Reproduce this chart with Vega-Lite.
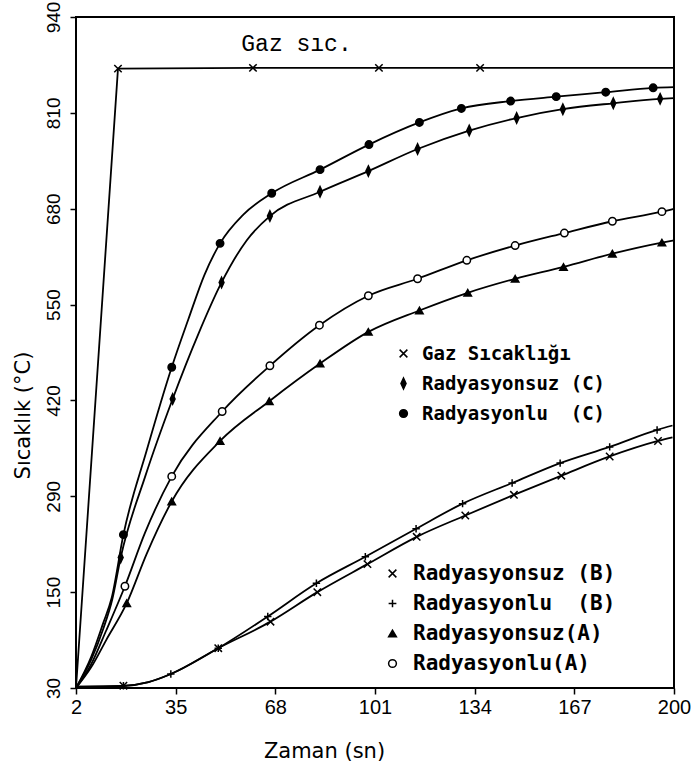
{
  "$schema": "https://vega.github.io/schema/vega-lite/v6.json",
  "width": 598,
  "height": 671,
  "autosize": {"type": "none"},
  "padding": {"left": 76, "top": 17, "right": 26, "bottom": 80},
  "background": "white",
  "config": {
    "view": {"stroke": "black", "strokeWidth": 2},
    "axis": {
      "grid": false,
      "domain": false,
      "tickColor": "black",
      "tickWidth": 1.5,
      "tickSize": 6,
      "labelColor": "black",
      "labelFont": "Liberation Sans",
      "labelFontSize": 19,
      "titleColor": "black",
      "titleFont": "DejaVu Sans",
      "titleFontSize": 21,
      "titleFontWeight": "normal"
    }
  },
  "datasets": {
    "curves": [
      {"series": "Gaz Sıcaklığı", "g": 1, "t": 2, "temp": 30, "m": 0},
      {"series": "Gaz Sıcaklığı", "g": 1, "t": 15.9, "temp": 870, "m": 1},
      {"series": "Gaz Sıcaklığı", "g": 1, "t": 60.6, "temp": 871, "m": 1},
      {"series": "Gaz Sıcaklığı", "g": 1, "t": 102.3, "temp": 871, "m": 1},
      {"series": "Gaz Sıcaklığı", "g": 1, "t": 135.8, "temp": 871, "m": 1},
      {"series": "Gaz Sıcaklığı", "g": 1, "t": 200, "temp": 871, "m": 0},

      {"series": "Radyasyonlu\u00a0\u00a0(C)", "g": 1, "t": 2, "temp": 30, "m": 0},
      {"series": "Radyasyonlu\u00a0\u00a0(C)", "g": 1, "t": 7, "temp": 72, "m": 0},
      {"series": "Radyasyonlu\u00a0\u00a0(C)", "g": 1, "t": 11, "temp": 118, "m": 0},
      {"series": "Radyasyonlu\u00a0\u00a0(C)", "g": 1, "t": 13.8, "temp": 152, "m": 0},
      {"series": "Radyasyonlu\u00a0\u00a0(C)", "g": 1, "t": 17.7, "temp": 238, "m": 1},
      {"series": "Radyasyonlu\u00a0\u00a0(C)", "g": 1, "t": 25.4, "temp": 352, "m": 0},
      {"series": "Radyasyonlu\u00a0\u00a0(C)", "g": 1, "t": 33.7, "temp": 465, "m": 1},
      {"series": "Radyasyonlu\u00a0\u00a0(C)", "g": 1, "t": 39.2, "temp": 530, "m": 0},
      {"series": "Radyasyonlu\u00a0\u00a0(C)", "g": 1, "t": 44.5, "temp": 590, "m": 0},
      {"series": "Radyasyonlu\u00a0\u00a0(C)", "g": 1, "t": 49.7, "temp": 633, "m": 1},
      {"series": "Radyasyonlu\u00a0\u00a0(C)", "g": 1, "t": 57.4, "temp": 672, "m": 0},
      {"series": "Radyasyonlu\u00a0\u00a0(C)", "g": 1, "t": 66.8, "temp": 701, "m": 1},
      {"series": "Radyasyonlu\u00a0\u00a0(C)", "g": 1, "t": 82.8, "temp": 733, "m": 1},
      {"series": "Radyasyonlu\u00a0\u00a0(C)", "g": 1, "t": 99, "temp": 767, "m": 1},
      {"series": "Radyasyonlu\u00a0\u00a0(C)", "g": 1, "t": 115.7, "temp": 797, "m": 1},
      {"series": "Radyasyonlu\u00a0\u00a0(C)", "g": 1, "t": 129.6, "temp": 816, "m": 1},
      {"series": "Radyasyonlu\u00a0\u00a0(C)", "g": 1, "t": 145.9, "temp": 826, "m": 1},
      {"series": "Radyasyonlu\u00a0\u00a0(C)", "g": 1, "t": 161, "temp": 832, "m": 1},
      {"series": "Radyasyonlu\u00a0\u00a0(C)", "g": 1, "t": 177.4, "temp": 838, "m": 1},
      {"series": "Radyasyonlu\u00a0\u00a0(C)", "g": 1, "t": 193.1, "temp": 844, "m": 1},
      {"series": "Radyasyonlu\u00a0\u00a0(C)", "g": 1, "t": 200, "temp": 845, "m": 0},

      {"series": "Radyasyonsuz (C)", "g": 1, "t": 2, "temp": 30, "m": 0},
      {"series": "Radyasyonsuz (C)", "g": 1, "t": 7, "temp": 68, "m": 0},
      {"series": "Radyasyonsuz (C)", "g": 1, "t": 11, "temp": 110, "m": 0},
      {"series": "Radyasyonsuz (C)", "g": 1, "t": 14, "temp": 150, "m": 0},
      {"series": "Radyasyonsuz (C)", "g": 1, "t": 16.8, "temp": 207, "m": 1},
      {"series": "Radyasyonsuz (C)", "g": 1, "t": 25, "temp": 318, "m": 0},
      {"series": "Radyasyonsuz (C)", "g": 1, "t": 34, "temp": 422, "m": 1},
      {"series": "Radyasyonsuz (C)", "g": 1, "t": 42.5, "temp": 510, "m": 0},
      {"series": "Radyasyonsuz (C)", "g": 1, "t": 50.2, "temp": 580, "m": 1},
      {"series": "Radyasyonsuz (C)", "g": 1, "t": 58.5, "temp": 637, "m": 0},
      {"series": "Radyasyonsuz (C)", "g": 1, "t": 66.2, "temp": 670, "m": 1},
      {"series": "Radyasyonsuz (C)", "g": 1, "t": 82.8, "temp": 703, "m": 1},
      {"series": "Radyasyonsuz (C)", "g": 1, "t": 98.8, "temp": 731, "m": 1},
      {"series": "Radyasyonsuz (C)", "g": 1, "t": 115.1, "temp": 761, "m": 1},
      {"series": "Radyasyonsuz (C)", "g": 1, "t": 132.2, "temp": 786, "m": 1},
      {"series": "Radyasyonsuz (C)", "g": 1, "t": 147.9, "temp": 803, "m": 1},
      {"series": "Radyasyonsuz (C)", "g": 1, "t": 163.2, "temp": 815, "m": 1},
      {"series": "Radyasyonsuz (C)", "g": 1, "t": 179.9, "temp": 823, "m": 1},
      {"series": "Radyasyonsuz (C)", "g": 1, "t": 195.4, "temp": 829, "m": 1},
      {"series": "Radyasyonsuz (C)", "g": 1, "t": 200, "temp": 830, "m": 0},

      {"series": "Radyasyonlu(A)", "g": 2, "t": 2, "temp": 30, "m": 0},
      {"series": "Radyasyonlu(A)", "g": 2, "t": 7, "temp": 62, "m": 0},
      {"series": "Radyasyonlu(A)", "g": 2, "t": 12, "temp": 108, "m": 0},
      {"series": "Radyasyonlu(A)", "g": 2, "t": 18.2, "temp": 168, "m": 1},
      {"series": "Radyasyonlu(A)", "g": 2, "t": 24.8, "temp": 240, "m": 0},
      {"series": "Radyasyonlu(A)", "g": 2, "t": 33.7, "temp": 317, "m": 1},
      {"series": "Radyasyonlu(A)", "g": 2, "t": 50.4, "temp": 405, "m": 1},
      {"series": "Radyasyonlu(A)", "g": 2, "t": 66.2, "temp": 467, "m": 1},
      {"series": "Radyasyonlu(A)", "g": 2, "t": 82.6, "temp": 522, "m": 1},
      {"series": "Radyasyonlu(A)", "g": 2, "t": 98.8, "temp": 562, "m": 1},
      {"series": "Radyasyonlu(A)", "g": 2, "t": 115.1, "temp": 585, "m": 1},
      {"series": "Radyasyonlu(A)", "g": 2, "t": 131.4, "temp": 610, "m": 1},
      {"series": "Radyasyonlu(A)", "g": 2, "t": 147.4, "temp": 630, "m": 1},
      {"series": "Radyasyonlu(A)", "g": 2, "t": 163.7, "temp": 647, "m": 1},
      {"series": "Radyasyonlu(A)", "g": 2, "t": 179.6, "temp": 663, "m": 1},
      {"series": "Radyasyonlu(A)", "g": 2, "t": 196, "temp": 676, "m": 1},
      {"series": "Radyasyonlu(A)", "g": 2, "t": 200, "temp": 680, "m": 0},

      {"series": "Radyasyonsuz(A)", "g": 2, "t": 2, "temp": 30, "m": 0},
      {"series": "Radyasyonsuz(A)", "g": 2, "t": 7, "temp": 58, "m": 0},
      {"series": "Radyasyonsuz(A)", "g": 2, "t": 12, "temp": 95, "m": 0},
      {"series": "Radyasyonsuz(A)", "g": 2, "t": 18.8, "temp": 145, "m": 1},
      {"series": "Radyasyonsuz(A)", "g": 2, "t": 25.4, "temp": 212, "m": 0},
      {"series": "Radyasyonsuz(A)", "g": 2, "t": 33.7, "temp": 283, "m": 1},
      {"series": "Radyasyonsuz(A)", "g": 2, "t": 49.7, "temp": 365, "m": 1},
      {"series": "Radyasyonsuz(A)", "g": 2, "t": 66, "temp": 419, "m": 1},
      {"series": "Radyasyonsuz(A)", "g": 2, "t": 82.8, "temp": 470, "m": 1},
      {"series": "Radyasyonsuz(A)", "g": 2, "t": 98.8, "temp": 513, "m": 1},
      {"series": "Radyasyonsuz(A)", "g": 2, "t": 115.7, "temp": 542, "m": 1},
      {"series": "Radyasyonsuz(A)", "g": 2, "t": 131.7, "temp": 566, "m": 1},
      {"series": "Radyasyonsuz(A)", "g": 2, "t": 147.4, "temp": 585, "m": 1},
      {"series": "Radyasyonsuz(A)", "g": 2, "t": 163.4, "temp": 601, "m": 1},
      {"series": "Radyasyonsuz(A)", "g": 2, "t": 179.6, "temp": 619, "m": 1},
      {"series": "Radyasyonsuz(A)", "g": 2, "t": 196, "temp": 634, "m": 1},
      {"series": "Radyasyonsuz(A)", "g": 2, "t": 200, "temp": 637, "m": 0},

      {"series": "Radyasyonlu\u00a0\u00a0(B)", "g": 2, "t": 2, "temp": 32, "m": 0},
      {"series": "Radyasyonlu\u00a0\u00a0(B)", "g": 2, "t": 17.7, "temp": 33, "m": 1},
      {"series": "Radyasyonlu\u00a0\u00a0(B)", "g": 2, "t": 26, "temp": 38, "m": 0},
      {"series": "Radyasyonlu\u00a0\u00a0(B)", "g": 2, "t": 33.4, "temp": 49, "m": 1},
      {"series": "Radyasyonlu\u00a0\u00a0(B)", "g": 2, "t": 49.1, "temp": 84, "m": 1},
      {"series": "Radyasyonlu\u00a0\u00a0(B)", "g": 2, "t": 65.5, "temp": 127, "m": 1},
      {"series": "Radyasyonlu\u00a0\u00a0(B)", "g": 2, "t": 81.6, "temp": 172, "m": 1},
      {"series": "Radyasyonlu\u00a0\u00a0(B)", "g": 2, "t": 97.8, "temp": 208, "m": 1},
      {"series": "Radyasyonlu\u00a0\u00a0(B)", "g": 2, "t": 114.6, "temp": 246, "m": 1},
      {"series": "Radyasyonlu\u00a0\u00a0(B)", "g": 2, "t": 130, "temp": 280, "m": 1},
      {"series": "Radyasyonlu\u00a0\u00a0(B)", "g": 2, "t": 146.4, "temp": 308, "m": 1},
      {"series": "Radyasyonlu\u00a0\u00a0(B)", "g": 2, "t": 162.3, "temp": 335, "m": 1},
      {"series": "Radyasyonlu\u00a0\u00a0(B)", "g": 2, "t": 178.7, "temp": 357, "m": 1},
      {"series": "Radyasyonlu\u00a0\u00a0(B)", "g": 2, "t": 194.4, "temp": 380, "m": 1},
      {"series": "Radyasyonlu\u00a0\u00a0(B)", "g": 2, "t": 199.5, "temp": 386, "m": 0},

      {"series": "Radyasyonsuz (B)", "g": 2, "t": 2, "temp": 32, "m": 0},
      {"series": "Radyasyonsuz (B)", "g": 2, "t": 17.7, "temp": 33, "m": 1},
      {"series": "Radyasyonsuz (B)", "g": 2, "t": 26, "temp": 38, "m": 0},
      {"series": "Radyasyonsuz (B)", "g": 2, "t": 33.4, "temp": 49, "m": 0},
      {"series": "Radyasyonsuz (B)", "g": 2, "t": 49.1, "temp": 84, "m": 1},
      {"series": "Radyasyonsuz (B)", "g": 2, "t": 66.4, "temp": 120, "m": 1},
      {"series": "Radyasyonsuz (B)", "g": 2, "t": 81.9, "temp": 160, "m": 1},
      {"series": "Radyasyonsuz (B)", "g": 2, "t": 98.5, "temp": 198, "m": 1},
      {"series": "Radyasyonsuz (B)", "g": 2, "t": 114.8, "temp": 235, "m": 1},
      {"series": "Radyasyonsuz (B)", "g": 2, "t": 130.9, "temp": 264, "m": 1},
      {"series": "Radyasyonsuz (B)", "g": 2, "t": 147, "temp": 292, "m": 1},
      {"series": "Radyasyonsuz (B)", "g": 2, "t": 162.7, "temp": 318, "m": 1},
      {"series": "Radyasyonsuz (B)", "g": 2, "t": 178.7, "temp": 344, "m": 1},
      {"series": "Radyasyonsuz (B)", "g": 2, "t": 194.7, "temp": 365, "m": 1},
      {"series": "Radyasyonsuz (B)", "g": 2, "t": 199.5, "temp": 370, "m": 0}
    ],
    "notes": [
      {"t": 75, "temp": 903, "text": "Gaz sıc."}
    ]
  },
  "layer": [
    {
      "data": {"name": "curves"},
      "transform": [{"filter": "datum.series == 'Gaz Sıcaklığı'"}],
      "mark": {"type": "line", "color": "black", "strokeWidth": 1.8},
      "encoding": {
        "x": {"field": "t", "type": "quantitative", "scale": {"domain": [2, 200], "nice": false, "zero": false},
          "axis": {"values": [2, 35, 68, 101, 134, 167, 200], "title": "Zaman (sn)", "labelFlush": false, "labelPadding": 3, "labelFontSize": 20, "titleX": 248, "titleY": 69, "titleBaseline": "alphabetic", "titleAlign": "center"}},
        "y": {"field": "temp", "type": "quantitative", "scale": {"domain": [30, 940], "nice": false, "zero": false},
          "axis": {"values": [30, 160, 290, 420, 550, 680, 810, 940], "labelExpr": "datum.value == 160 ? '150' : datum.label", "title": "Sıcaklık (°C)", "labelAngle": 270, "labelAlign": "center", "labelBaseline": "bottom", "labelPadding": 7, "titleAngle": 270, "titleX": -53, "titleY": 398, "titleAlign": "center", "titleBaseline": "middle"}},
        "detail": {"field": "series", "type": "nominal"}
      }
    },
    {
      "data": {"name": "curves"},
      "transform": [{"filter": "datum.series != 'Gaz Sıcaklığı'"}],
      "mark": {"type": "line", "color": "black", "strokeWidth": 1.8, "interpolate": "monotone"},
      "encoding": {
        "x": {"field": "t", "type": "quantitative", "scale": {"domain": [2, 200], "nice": false, "zero": false}},
        "y": {"field": "temp", "type": "quantitative", "scale": {"domain": [30, 940], "nice": false, "zero": false}},
        "detail": {"field": "series", "type": "nominal"}
      }
    },
    {
      "data": {"name": "curves"},
      "transform": [{"filter": "datum.m == 1 && datum.g == 1"}],
      "mark": {"type": "point", "filled": true, "strokeWidth": 1.5, "size": 55, "opacity": 1},
      "encoding": {
        "x": {"field": "t", "type": "quantitative", "scale": {"domain": [2, 200], "nice": false, "zero": false}},
        "y": {"field": "temp", "type": "quantitative", "scale": {"domain": [30, 940], "nice": false, "zero": false}},
        "shape": {"field": "series", "type": "nominal",
          "scale": {"domain": ["Gaz Sıcaklığı", "Radyasyonsuz (C)", "Radyasyonlu\u00a0\u00a0(C)"], "range": ["M-1,-1L1,1M-1,1L1,-1", "M0,-1.4L0.65,0L0,1.4L-0.65,0Z", "circle"]},
          "legend": {"orient": "none", "legendX": 318, "legendY": 327, "title": null, "labelFont": "DejaVu Sans Mono", "labelFontSize": 19, "labelFontWeight": "bold", "labelColor": "black", "labelOffset": 9, "labelLimit": 400, "rowPadding": 10, "symbolSize": 60, "symbolStrokeWidth": 1.5}},
        "fill": {"field": "series", "type": "nominal",
          "scale": {"domain": ["Gaz Sıcaklığı", "Radyasyonsuz (C)", "Radyasyonlu\u00a0\u00a0(C)"], "range": ["black", "black", "black"]},
          "legend": {"orient": "none", "legendX": 318, "legendY": 327, "title": null, "labelFont": "DejaVu Sans Mono", "labelFontSize": 19, "labelFontWeight": "bold", "labelColor": "black", "labelOffset": 9, "labelLimit": 400, "rowPadding": 10, "symbolSize": 60, "symbolStrokeWidth": 1.5}},
        "stroke": {"field": "series", "type": "nominal",
          "scale": {"domain": ["Gaz Sıcaklığı", "Radyasyonsuz (C)", "Radyasyonlu\u00a0\u00a0(C)"], "range": ["black", "black", "black"]},
          "legend": {"orient": "none", "legendX": 318, "legendY": 327, "title": null, "labelFont": "DejaVu Sans Mono", "labelFontSize": 19, "labelFontWeight": "bold", "labelColor": "black", "labelOffset": 9, "labelLimit": 400, "rowPadding": 10, "symbolSize": 60, "symbolStrokeWidth": 1.5}}
      }
    },
    {
      "data": {"name": "curves"},
      "transform": [{"filter": "datum.m == 1 && datum.g == 2"}],
      "mark": {"type": "point", "filled": true, "strokeWidth": 1.5, "size": 55, "opacity": 1},
      "encoding": {
        "x": {"field": "t", "type": "quantitative", "scale": {"domain": [2, 200], "nice": false, "zero": false}},
        "y": {"field": "temp", "type": "quantitative", "scale": {"domain": [30, 940], "nice": false, "zero": false}},
        "shape": {"field": "series", "type": "nominal",
          "scale": {"domain": ["Radyasyonsuz (B)", "Radyasyonlu\u00a0\u00a0(B)", "Radyasyonsuz(A)", "Radyasyonlu(A)"], "range": ["M-1,-1L1,1M-1,1L1,-1", "M-1,0L1,0M0,-1L0,1", "triangle-up", "circle"]},
          "legend": {"orient": "none", "legendX": 306, "legendY": 546, "title": null, "labelFont": "DejaVu Sans Mono", "labelFontSize": 21, "labelFontWeight": "bold", "labelColor": "black", "labelOffset": 10, "labelLimit": 400, "rowPadding": 8, "symbolSize": 60, "symbolStrokeWidth": 1.5}},
        "fill": {"field": "series", "type": "nominal",
          "scale": {"domain": ["Radyasyonsuz (B)", "Radyasyonlu\u00a0\u00a0(B)", "Radyasyonsuz(A)", "Radyasyonlu(A)"], "range": ["black", "black", "black", "white"]},
          "legend": {"orient": "none", "legendX": 306, "legendY": 546, "title": null, "labelFont": "DejaVu Sans Mono", "labelFontSize": 21, "labelFontWeight": "bold", "labelColor": "black", "labelOffset": 10, "labelLimit": 400, "rowPadding": 8, "symbolSize": 60, "symbolStrokeWidth": 1.5}},
        "stroke": {"field": "series", "type": "nominal",
          "scale": {"domain": ["Radyasyonsuz (B)", "Radyasyonlu\u00a0\u00a0(B)", "Radyasyonsuz(A)", "Radyasyonlu(A)"], "range": ["black", "black", "black", "black"]},
          "legend": {"orient": "none", "legendX": 306, "legendY": 546, "title": null, "labelFont": "DejaVu Sans Mono", "labelFontSize": 21, "labelFontWeight": "bold", "labelColor": "black", "labelOffset": 10, "labelLimit": 400, "rowPadding": 8, "symbolSize": 60, "symbolStrokeWidth": 1.5}}
      }
    },
    {
      "data": {"name": "notes"},
      "mark": {"type": "text", "font": "Liberation Mono", "fontSize": 23, "color": "black", "align": "center", "baseline": "middle"},
      "encoding": {
        "x": {"field": "t", "type": "quantitative", "scale": {"domain": [2, 200], "nice": false, "zero": false}},
        "y": {"field": "temp", "type": "quantitative", "scale": {"domain": [30, 940], "nice": false, "zero": false}},
        "text": {"field": "text", "type": "nominal"}
      }
    }
  ],
  "resolve": {
    "scale": {"shape": "independent", "fill": "independent", "stroke": "independent"},
    "legend": {"shape": "independent", "fill": "independent", "stroke": "independent"}
  }
}
